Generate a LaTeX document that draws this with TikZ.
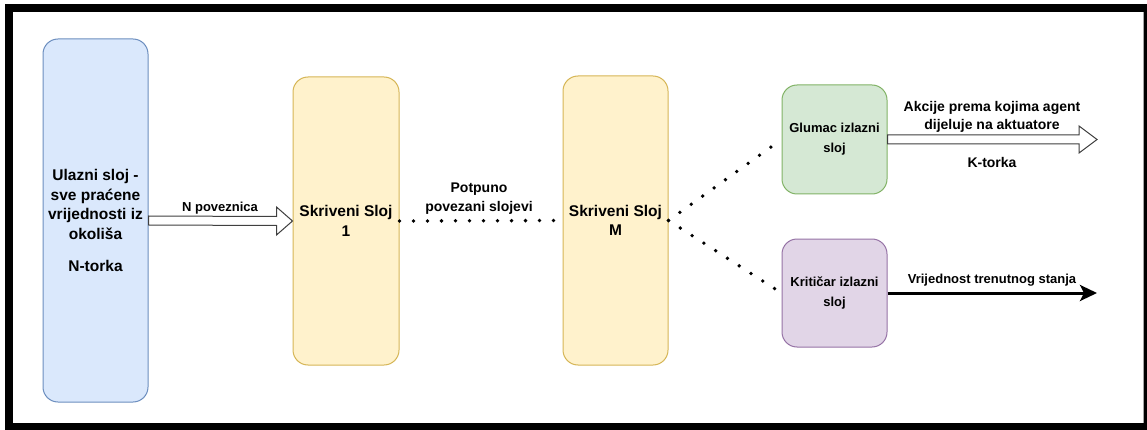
\documentclass[tikz,border=0pt]{standalone}
\usepackage{fontspec}
\setmainfont{Liberation Sans}
\usetikzlibrary{calc,arrows.meta}
\definecolor{bluef}{HTML}{DAE8FC}\definecolor{bluel}{HTML}{6C8EBF}
\definecolor{yelf}{HTML}{FFF2CC}\definecolor{yell}{HTML}{D6B656}
\definecolor{grnf}{HTML}{D5E8D4}\definecolor{grnl}{HTML}{82B366}
\definecolor{purf}{HTML}{E1D5E7}\definecolor{purl}{HTML}{9673A6}
\begin{document}
\begin{tikzpicture}[x=1pt,y=-1pt,
  layer/.style={draw, line width=1pt, rounded corners=15pt, inner sep=0pt, align=center,
    minimum width=105pt, font=\bfseries\fontsize{15.5}{19.5}\selectfont},
  outbox/.style={layer, font=\bfseries\fontsize{13}{20}\selectfont},
  lbl/.style={inner sep=0pt, align=center, font=\bfseries\fontsize{13}{17}\selectfont},
  hollow/.style={draw=black!75, fill=white, line width=1pt, line join=miter},
  dots/.style={line width=3.8pt, line cap=round, dash pattern=on 0pt off 14pt}]
\useasboundingbox (0,0) rectangle (1147,430);
\fill[black] (5,4) rectangle (1147,430);
\fill[white] (13,12) rectangle (1143.5,423);
\draw[gray!70, line width=0.8pt] (1143.5,12) -- (1143.5,423);

\node[layer, fill=bluef, draw=bluel, minimum height=363pt] (in) at (95.5,220.5)
  {Ulazni sloj -\\sve praćene\\vrijednosti iz\\okoliša\\[13pt]N-torka};
\node[layer, fill=yelf, draw=yell, minimum height=288pt, minimum width=106pt] (s1) at (346,221)
  {Skriveni Sloj\\1};
\node[layer, fill=yelf, draw=yell, minimum height=289pt] (sm) at (615.5,220.5)
  {Skriveni Sloj\\M};
\node[outbox, fill=grnf, draw=grnl, minimum height=109pt] (gl) at (834.5,139.5)
  {Glumac izlazni\\sloj};
\node[outbox, fill=purf, draw=purl, minimum height=108pt] (kr) at (834.5,293)
  {Kritičar izlazni\\sloj};

% input -> hidden 1
\draw[hollow] ($(in.east)+(0,-4.5)$) -- ($(s1.west)+(-16,-4.5)$) -- ($(s1.west)+(-16,-14)$)
  -- (s1.west) -- ($(s1.west)+(-16,14)$) -- ($(s1.west)+(-16,4.5)$) -- ($(in.east)+(0,4.5)$) -- cycle;
\node[lbl] (np) at (220,208) {N poveznica};

% hidden 1 ... hidden M
\draw[dots] (s1.east) -- (sm.west);
\node[lbl, font=\bfseries\fontsize{14}{19}\selectfont] (pp) at (479,198.5) {Potpuno\\povezani slojevi};

% hidden M ... outputs
\draw[dots] (sm.east) -- (gl.west);
\draw[dots] (sm.east) -- (kr.west);

% actor output
\coordinate (gt) at (1097,139.5);
\draw[hollow] ($(gl.east)+(0,-4.5)$) -- ($(gt)+(-18,-4.5)$) -- ($(gt)+(-18,-13.5)$)
  -- (gt) -- ($(gt)+(-18,13.5)$) -- ($(gt)+(-18,4.5)$) -- ($(gl.east)+(0,4.5)$) -- cycle;
\node[lbl, font=\bfseries\fontsize{14}{18}\selectfont] (ak) at (992,117) {Akcije prema kojima agent\\dijeluje na aktuatore};
\node[lbl, font=\bfseries\fontsize{14}{18}\selectfont] (kt) at (992,162) {K-torka};

% critic output
\coordinate (ct) at (1097,293);
\draw[line width=3pt, -{Stealth[length=17pt,width=16pt,inset=4pt]}] (kr.east) -- (ct);
\node[lbl] (vs) at (992,280) {Vrijednost trenutnog stanja};
\end{tikzpicture}
\end{document}
